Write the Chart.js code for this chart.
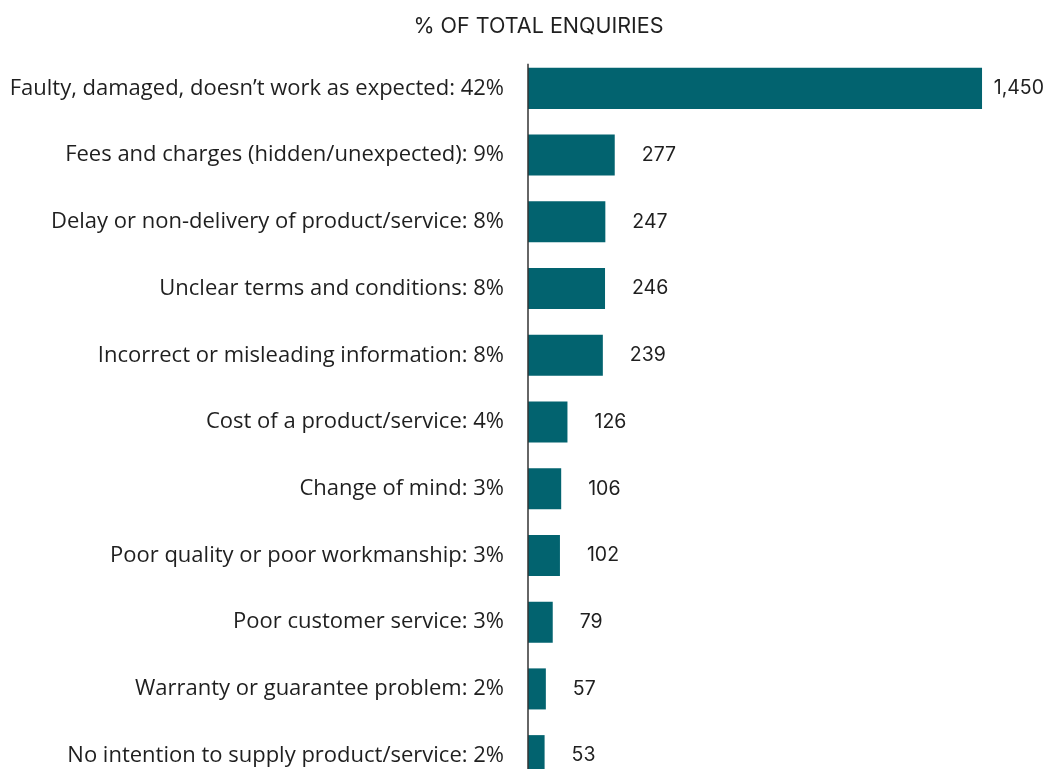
<!DOCTYPE html>
<html>
<head>
<meta charset="utf-8">
<script src="https://cdn.jsdelivr.net/npm/chart.js@4/dist/chart.umd.min.js"></script>
<style>
  html, body { margin: 0; padding: 0; background: #fff; }
  /* the original picture cuts the last bar off at the bottom */
  #wrap { width: 1047px; height: 769px; overflow: hidden; position: relative; }
  canvas { display: block; }
</style>
</head>
<body>
<div id="wrap">
<canvas id="my_canvas" width="1047" height="800" style="width:1047px;height:800px"></canvas>
</div>
<script>
// categories and enquiry counts
var categories = [
    'Faulty, damaged, doesn\u2019t work as expected: 42%',
    'Fees and charges (hidden/unexpected): 9%',
    'Delay or non-delivery of product/service: 8%',
    'Unclear terms and conditions: 8%',
    'Incorrect or misleading information: 8%',
    'Cost of a product/service: 4%',
    'Change of mind: 3%',
    'Poor quality or poor workmanship: 3%',
    'Poor customer service: 3%',
    'Warranty or guarantee problem: 2%',
    'No intention to supply product/service: 2%'
];
var enquiries = [1450, 277, 247, 246, 239, 126, 106, 102, 79, 57, 53];
var chartTitle = '% OF TOTAL ENQUIRIES';

var barColour = '#02636f';
var textColour = '#1f1f1f';

// title, value labels to the right of each bar, and the vertical axis line
var extras = {
    id: 'extras',
    afterDatasetsDraw: function(chart) {
        var ctx = chart.ctx;
        var meta = chart.getDatasetMeta(0);
        var area = chart.chartArea;
        ctx.save();
        ctx.fillStyle = textColour;
        ctx.textBaseline = 'middle';

        ctx.font = '21.5px Inter';
        ctx.textAlign = 'center';
        ctx.fillText(chartTitle, 538.5, 27);

        ctx.font = '19.5px Inter';
        ctx.textAlign = 'left';
        meta.data.forEach(function(bar, i) {
            var txt = enquiries[i].toLocaleString('en-US');
            var w = ctx.measureText(txt).width;
            var x = Math.min(bar.x + 27, chart.width - w - 3);
            ctx.fillText(txt, x, bar.y);
        });

        var first = meta.data[0];
        ctx.strokeStyle = '#333';
        ctx.lineWidth = 1.5;
        ctx.beginPath();
        ctx.moveTo(area.left, first.y - first.height / 2 - 4);
        ctx.lineTo(area.left, chart.height);
        ctx.stroke();
        ctx.restore();
    }
};

var chartdata = {
    labels: categories,
    datasets: [{
        label: 'Enquiries',
        backgroundColor: barColour,
        data: enquiries,
        barPercentage: 0.615,
        categoryPercentage: 1.0
    }]
};

var ctx = document.getElementById('my_canvas');

var barGraph = new Chart(ctx, {
    type: 'bar',
    data: chartdata,
    plugins: [extras],
    options: {
        indexAxis: 'y',
        responsive: false,
        devicePixelRatio: 1,
        animation: false,
        layout: { padding: { left: 0, right: 18, top: 55, bottom: 11 } },
        plugins: {
            legend: { display: false },
            tooltip: { enabled: false }
        },
        scales: {
            x: {
                display: false,
                min: 0,
                max: 1600
            },
            y: {
                afterFit: function(scale) {
                    scale.width = 528;
                    // tick padding would otherwise eat space above/below the bars
                    scale.paddingTop = 0;
                    scale.paddingBottom = 0;
                },
                grid: { display: false, drawTicks: false },
                border: { display: false },
                ticks: {
                    color: textColour,
                    padding: 24,
                    font: { family: 'Open Sans', size: 22 }
                }
            }
        }
    }
});
</script>
</body>
</html>
